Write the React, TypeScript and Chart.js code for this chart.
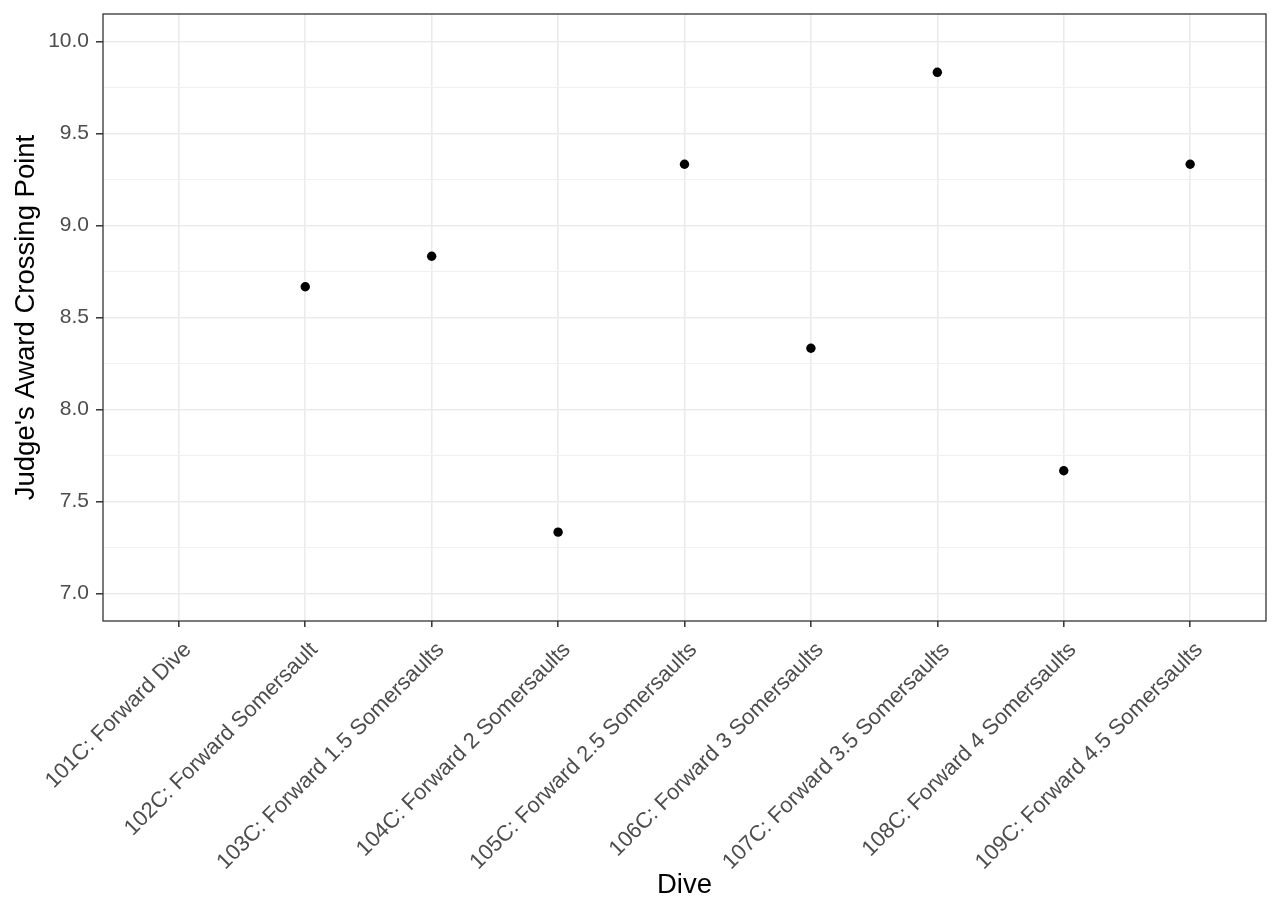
import React, { useEffect, useRef } from "react";
import { Chart, registerables } from "chart.js";

Chart.register(...registerables);

const DIVES: string[] = [
  "101C: Forward Dive",
  "102C: Forward Somersault",
  "103C: Forward 1.5 Somersaults",
  "104C: Forward 2 Somersaults",
  "105C: Forward 2.5 Somersaults",
  "106C: Forward 3 Somersaults",
  "107C: Forward 3.5 Somersaults",
  "108C: Forward 4 Somersaults",
  "109C: Forward 4.5 Somersaults",
];

const CROSSING_POINTS: (number | null)[] = [
  null, 8.667, 8.833, 7.333, 9.333, 8.333, 9.833, 7.667, 9.333,
];

const Y_MAJOR_TICKS: number[] = [7.0, 7.5, 8.0, 8.5, 9.0, 9.5, 10.0];
const Y_MINOR_TICKS: number[] = [7.25, 7.75, 8.25, 8.75, 9.25, 9.75];

const Y_MIN = 6.85;
const Y_MAX = 10.15;
const X_EXPAND = 0.6;

const FONT = "'Liberation Sans', Arial, sans-serif";

const panelBorder = {
  id: "panelBorder",
  afterDraw(chart: any) {
    const { ctx, chartArea } = chart;
    ctx.save();
    ctx.strokeStyle = "#333333";
    ctx.lineWidth = 1.3;
    ctx.strokeRect(
      chartArea.left,
      chartArea.top,
      chartArea.right - chartArea.left,
      chartArea.bottom - chartArea.top
    );
    ctx.restore();
  },
};

const isMajorY = (v: number) => Y_MAJOR_TICKS.some((m) => Math.abs(m - v) < 1e-6);

export default function App() {
  const canvasRef = useRef<HTMLCanvasElement | null>(null);

  useEffect(() => {
    if (!canvasRef.current) return;
    const points = CROSSING_POINTS.map((v, i) => ({ x: i, y: v })).filter(
      (p) => p.y !== null
    );
    const chart = new Chart(canvasRef.current, {
      type: "scatter",
      data: {
        datasets: [
          {
            data: points as any,
            backgroundColor: "#000000",
            borderWidth: 0,
            pointRadius: 4.7,
            pointHoverRadius: 4.7,
          },
        ],
      },
      plugins: [panelBorder],
      options: {
        responsive: false,
        animation: false,
        devicePixelRatio: 1,
        layout: { padding: { top: 14, right: 14, left: 0, bottom: 0 } },
        plugins: {
          legend: { display: false },
          tooltip: { enabled: false },
        },
        scales: {
          x: {
            type: "linear",
            min: -X_EXPAND,
            max: DIVES.length - 1 + X_EXPAND,
            afterBuildTicks: (scale: any) => {
              scale.ticks = DIVES.map((_, i) => ({ value: i }));
            },
            afterFit: (scale: any) => {
              scale.height = 914 - 621;
              scale.paddingLeft = 0;
              scale.paddingRight = 0;
            },
            border: { display: false },
            grid: {
              color: "#EBEBEB",
              lineWidth: 1.6,
              drawTicks: true,
              tickLength: 6,
              tickColor: "#333333",
              tickWidth: 1.5,
            },
            ticks: {
              autoSkip: false,
              minRotation: 45,
              maxRotation: 45,
              padding: 10,
              labelOffset: 9,
              color: "#4D4D4D",
              font: { family: FONT, size: 22 },
              callback: (v: any) => DIVES[Math.round(Number(v))] ?? "",
            },
            title: {
              display: true,
              text: "Dive",
              color: "#000000",
              font: { family: FONT, size: 27.5 },
              padding: { top: 0, bottom: 12 },
            },
          },
          y: {
            type: "linear",
            min: Y_MIN,
            max: Y_MAX,
            afterBuildTicks: (scale: any) => {
              scale.ticks = [...Y_MAJOR_TICKS, ...Y_MINOR_TICKS]
                .sort((a, b) => a - b)
                .map((v) => ({ value: v }));
            },
            afterFit: (scale: any) => {
              scale.width = 103;
              scale.paddingTop = 0;
              scale.paddingBottom = 0;
            },
            border: { display: false },
            grid: {
              color: (ctx: any) => (isMajorY(ctx.tick.value) ? "#EBEBEB" : "#F0F0F0"),
              lineWidth: (ctx: any) => (isMajorY(ctx.tick.value) ? 1.6 : 1.1),
              drawTicks: true,
              tickLength: 7,
              tickColor: (ctx: any) =>
                isMajorY(ctx.tick.value) ? "#333333" : "rgba(0,0,0,0)",
              tickWidth: 1.5,
            },
            ticks: {
              autoSkip: false,
              padding: 7,
              color: "#4D4D4D",
              font: { family: FONT, size: 21 },
              callback: (v: any) =>
                isMajorY(Number(v)) ? Number(v).toFixed(1) : "",
            },
            title: {
              display: true,
              text: "Judge's Award Crossing Point",
              color: "#000000",
              font: { family: FONT, size: 27.5 },
              padding: { top: 10, bottom: 0 },
            },
          },
        },
      },
    });
    return () => chart.destroy();
  }, []);

  return (
    <div style={{ position: "fixed", left: 0, top: 0, width: 1280, height: 914, background: "#ffffff" }}>
      <canvas ref={canvasRef} width={1280} height={914} style={{ display: "block" }} />
    </div>
  );
}
